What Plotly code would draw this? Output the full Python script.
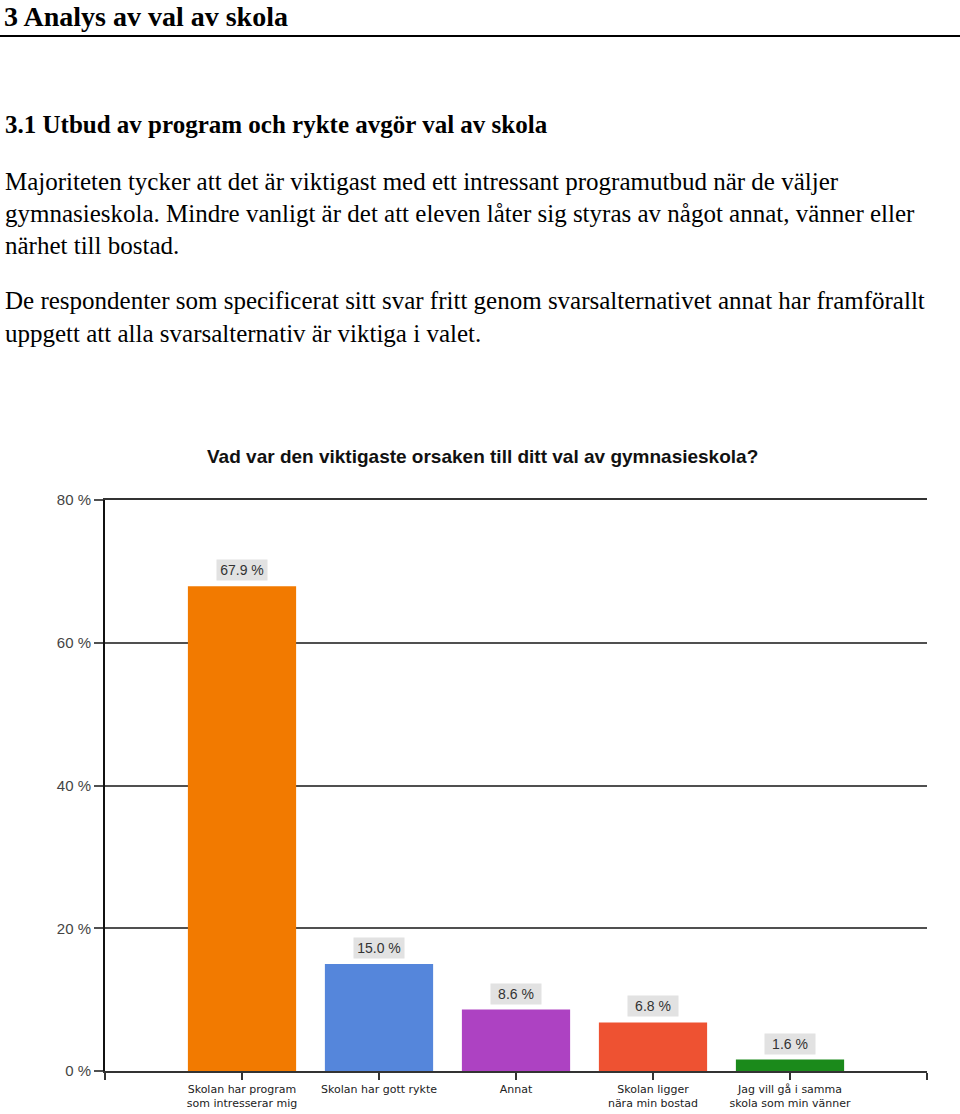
import plotly.graph_objects as go

# data
categories = [
    "Skolan har program<br>som intresserar mig",
    "Skolan har gott rykte",
    "Annat",
    "Skolan ligger<br>nära min bostad",
    "Jag vill gå i samma<br>skola som min vänner",
]
shares = [67.9, 15.0, 8.6, 6.8, 1.6]
bar_colors = ["#F27A00", "#5586DB", "#AD42C2", "#EE5232", "#1B8A1B"]
y_ticks = [0, 20, 40, 60, 80]

heading = "3 Analys av val av skola"
subheading = "3.1 Utbud av program och rykte avgör val av skola"
body_lines = [
    "Majoriteten tycker att det är viktigast med ett intressant programutbud när de väljer",
    "gymnasieskola. Mindre vanligt är det att eleven låter sig styras av något annat, vänner eller",
    "närhet till bostad.",
    "De respondenter som specificerat sitt svar fritt genom svarsalternativet annat har framförallt",
    "uppgett att alla svarsalternativ är viktiga i valet.",
]
body_y = [181, 213, 245, 300, 333]
chart_title = "Vad var den viktigaste orsaken till ditt val av gymnasieskola?"

# page geometry in pixels (body margin removed below)
W, H = 960, 1114
L, R, T, B = 105, 33, 500, 43
pw, ph = W - L - R, H - T - B


def px(x):
    return (x - L) / pw


def py(y):
    return (H - B - y) / ph


serif = "Liberation Serif, Times New Roman, serif"
sans = "Liberation Sans, Arial, sans-serif"

xpos = list(range(1, len(categories) + 1))

fig = go.Figure()
fig.add_trace(go.Bar(
    x=xpos, y=shares, width=0.79,
    marker=dict(color=bar_colors, line=dict(width=0)),
    hovertemplate="%{y:.1f} %<extra></extra>",
))

annotations = []
for xv, v in zip(xpos, shares):
    annotations.append(dict(
        x=xv, y=v, xref="x", yref="y", text=f"{v:.1f} %",
        showarrow=False, yanchor="bottom", yshift=5,
        bgcolor="#E2E2E2", borderpad=2, width=46,
        font=dict(family=sans, size=14, color="#333333"),
    ))

annotations.append(dict(
    x=px(3), y=py(0), xref="paper", yref="paper", text=f"<b>{heading}</b>",
    showarrow=False, xanchor="left", yanchor="top", borderpad=0,
    font=dict(family=serif, size=28, color="#000000"),
))
annotations.append(dict(
    x=px(3), y=py(125), xref="paper", yref="paper", text=f"<b>{subheading}</b>",
    showarrow=False, xanchor="left", yanchor="middle",
    font=dict(family=serif, size=25, color="#000000"),
))
for line, yy in zip(body_lines, body_y):
    annotations.append(dict(
        x=px(3), y=py(yy), xref="paper", yref="paper", text=line,
        showarrow=False, xanchor="left", yanchor="middle",
        font=dict(family=serif, size=25, color="#000000"),
    ))
annotations.append(dict(
    x=px(482), y=py(457), xref="paper", yref="paper", text=f"<b>{chart_title}</b>",
    showarrow=False, xanchor="center", yanchor="middle",
    font=dict(family=sans, size=19, color="#111111"),
))

fig.update_layout(
    width=W, height=H,
    margin=dict(l=L, r=R, t=T, b=B, autoexpand=False),
    paper_bgcolor="white", plot_bgcolor="white",
    showlegend=False,
    annotations=annotations,
    shapes=[dict(type="line", xref="paper", yref="paper",
                 x0=px(0), x1=px(960), y0=py(36), y1=py(36),
                 line=dict(color="black", width=2))],
)

fig.update_xaxes(
    range=[0, 6], automargin=False,
    tickvals=[0] + xpos + [6],
    ticktext=[""] + categories + [""],
    ticks="outside", ticklen=7, tickcolor="#333333", tickwidth=1.5,
    showline=True, mirror=True, linecolor="#333333", linewidth=1.5,
    showgrid=False, zeroline=False,
    tickfont=dict(family="DejaVu Sans, sans-serif", size=11, color="#222222"),
)
fig.update_yaxes(
    range=[0, 80], automargin=False,
    tickvals=y_ticks, ticktext=[f"{v} %" for v in y_ticks],
    ticks="outside", ticklen=9, tickcolor="#505050", tickwidth=1.5,
    showgrid=True, gridcolor="#505050", gridwidth=1.5,
    showline=True, linecolor="#111111", linewidth=2,
    zeroline=False,
    tickfont=dict(family=sans, size=15, color="#444444"),
)

fig.write_html(
    "out.html",
    config={"displayModeBar": False},
    post_script="document.body.style.margin='0';document.body.style.overflow='hidden';",
)
